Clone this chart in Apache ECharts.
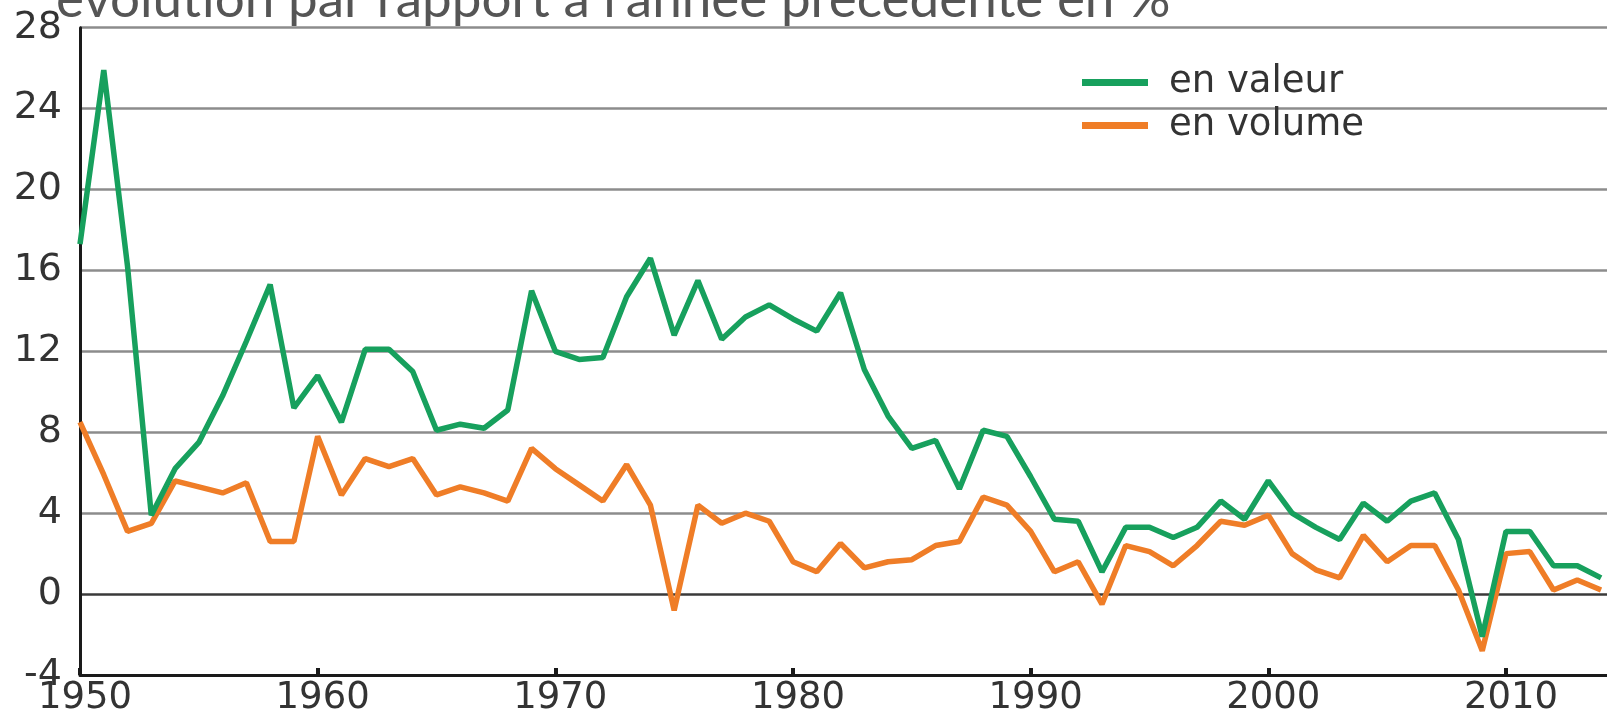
<!DOCTYPE html>
<html lang="fr">
<head>
<meta charset="utf-8">
<title>PIB - évolution par rapport à l'année précédente</title>
<script src="https://cdn.jsdelivr.net/npm/echarts@6/dist/echarts.min.js"></script>
<style>
  html, body { margin: 0; padding: 0; background: #fff; }
  #chart { width: 1607px; height: 727px; }
</style>
</head>
<body>
<div id="chart"></div>
<script>
/**
 * Data (% vs previous year)
 */
const years = [];
for (let y = 1950; y <= 2014; y++) years.push(y);

const enValeur = [
  17.3, 25.9, 16.2, 3.9, 6.2, 7.5, 9.8, 12.5, 15.3, 9.2,
  10.8, 8.5, 12.1, 12.1, 11.0, 8.1, 8.4, 8.2, 9.1, 15.0,
  12.0, 11.6, 11.7, 14.7, 16.6, 12.8, 15.5, 12.6, 13.7, 14.3,
  13.6, 13.0, 14.9, 11.1, 8.8, 7.2, 7.6, 5.2, 8.1, 7.8,
  5.8, 3.7, 3.6, 1.1, 3.3, 3.3, 2.8, 3.3, 4.6, 3.7,
  5.6, 4.0, 3.3, 2.7, 4.5, 3.6, 4.6, 5.0, 2.7, -2.1,
  3.1, 3.1, 1.4, 1.4, 0.8
];

const enVolume = [
  8.5, 5.9, 3.1, 3.5, 5.6, 5.3, 5.0, 5.5, 2.6, 2.6,
  7.8, 4.9, 6.7, 6.3, 6.7, 4.9, 5.3, 5.0, 4.6, 7.2,
  6.2, 5.4, 4.6, 6.4, 4.4, -0.8, 4.4, 3.5, 4.0, 3.6,
  1.6, 1.1, 2.5, 1.3, 1.6, 1.7, 2.4, 2.6, 4.8, 4.4,
  3.1, 1.1, 1.6, -0.5, 2.4, 2.1, 1.4, 2.4, 3.6, 3.4,
  3.9, 2.0, 1.2, 0.8, 2.9, 1.6, 2.4, 2.4, 0.2, -2.8,
  2.0, 2.1, 0.2, 0.7, 0.2
];

const seriesNames = ["en valeur", "en volume"];
const titleText = "évolution par rapport à l'année précédente en %";

const pairs = (vals) => years.map((y, i) => [y, vals[i]]);

const chart = echarts.init(document.getElementById("chart"), null, { renderer: "canvas" });

// one colour per split line, from -4 up to 28 (the 0 line is darker)
const splitColors = ["#8c8c8c", "#3a3a3a", "#8c8c8c", "#8c8c8c", "#8c8c8c",
  "#8c8c8c", "#8c8c8c", "#8c8c8c", "#8c8c8c"];

chart.setOption({
  animation: false,
  backgroundColor: "#fff",
  textStyle: { fontFamily: "DejaVu Sans, sans-serif" },
  graphic: [{
    type: "text",
    left: 56,
    top: -27,
    silent: true,
    style: {
      text: titleText,
      font: "53px Lato, 'Open Sans', sans-serif",
      fill: "#555"
    }
  }],
  legend: {
    orient: "vertical",
    left: 1077,
    top: 59,
    icon: "rect",
    itemWidth: 66,
    itemHeight: 7,
    itemGap: 6,
    data: seriesNames,
    textStyle: {
      fontSize: 37,
      fontFamily: "DejaVu Sans, sans-serif",
      color: "#333",
      padding: [0, 0, 0, 16]
    }
  },
  grid: {
    left: 80,
    right: 0,
    top: 27.7,
    bottom: 52,
    containLabel: false
  },
  xAxis: {
    type: "value",
    min: 1950,
    max: 2014.25,
    interval: 10,
    axisLine: { show: true, onZero: false, lineStyle: { color: "#1a1a1a", width: 3 } },
    axisTick: { show: true, inside: true, length: 7, lineStyle: { color: "#1a1a1a", width: 4 } },
    splitLine: { show: false },
    axisLabel: {
      fontSize: 37,
      color: "#333",
      margin: 5,
      padding: [0, 0, 0, 10],
      showMaxLabel: false,
      formatter: (v) => (v % 10 === 0 ? String(v) : "")
    }
  },
  yAxis: {
    type: "value",
    min: -4,
    max: 28,
    interval: 4,
    axisLine: { show: true, lineStyle: { color: "#1a1a1a", width: 3 } },
    axisTick: { show: false },
    axisLabel: { fontSize: 38, color: "#333", margin: 18 },
    splitLine: { show: true, lineStyle: { color: splitColors, width: 2.5 } }
  },
  series: [
    {
      name: seriesNames[0],
      type: "line",
      data: pairs(enValeur),
      symbol: "none",
      color: "#17a05d",
      lineStyle: { width: 5.5, color: "#17a05d" },
      z: 3
    },
    {
      name: seriesNames[1],
      type: "line",
      data: pairs(enVolume),
      symbol: "none",
      color: "#ef7d27",
      lineStyle: { width: 5.5, color: "#ef7d27" },
      z: 2
    }
  ]
});
</script>
</body>
</html>
